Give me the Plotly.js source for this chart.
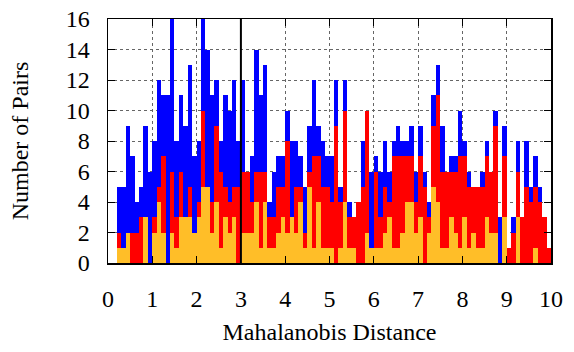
<!DOCTYPE html>
<html>
<head>
<meta charset="utf-8">
<script src="https://cdn.plot.ly/plotly-3.0.1.min.js"></script>
<style>html,body{margin:0;padding:0;background:#fff;}#chart{width:574px;height:352px;}</style>
</head>
<body>
<div id="chart"></div>
<script>
// Histogram bins: 0.0-10.0, width 0.1 (bin start values)
const binStarts = Array.from({length: 100}, (_, k) => +(k * 0.1).toFixed(1));
const binWidth = 0.1;

const allPairs = [0,0,5,5,9,7,4,5,9,6, 8,12,11,11,16,8,11,9,13,7, 8,16,14,11,12,8,11,10,12,8,
  12,6,7,14,11,13,4,6,7,7, 10,8,8,7,5,9,12,9,8,7, 7,12,5,12,4,3,4,8,10,6,
  7,6,8,6,8,9,8,8,9,6, 9,6,4,11,13,9,6,7,7,10, 8,6,5,5,6,8,6,10,3,9,
  0,3,8,3,8,5,7,5,3,1];
const redPairs = [0,0,2,1,2,2,2,3,3,0, 3,5,7,0,6,3,6,3,5,2, 4,10,5,4,9,6,5,4,5,5,
  6,6,4,6,6,6,3,3,5,5, 8,3,5,5,2,6,7,7,5,5, 4,9,4,10,3,3,4,5,10,1,
  6,3,5,4,7,7,7,7,7,4, 7,5,3,9,11,6,6,6,6,7, 7,5,5,5,5,7,6,9,0,7,
  1,2,6,3,5,4,5,4,3,1];
const orangePairs = [0,0,1,1,2,0,0,0,3,0, 2,4,2,0,2,1,3,3,3,2, 3,5,5,2,4,1,3,2,3,0,
  2,2,2,4,1,4,1,1,2,3, 2,3,2,4,1,5,1,4,1,1, 1,0,1,4,1,1,0,0,2,1,
  1,1,2,3,1,1,2,4,4,2, 3,0,2,5,4,1,1,3,2,1, 3,1,2,1,1,3,2,2,0,3,
  0,0,3,0,0,0,1,0,0,0];

const xCenters = binStarts.map(s => s + binWidth / 2);

function barTrace(y, color) {
  return {
    type: 'bar', x: xCenters, y: y, width: binWidth,
    marker: {color: color, line: {width: 0}},
    hoverinfo: 'skip', showlegend: false
  };
}

const data = [
  barTrace(allPairs, '#0000FF'),
  barTrace(redPairs, '#FF0000'),
  barTrace(orangePairs, '#FFBE28')
];

const font = {family: '"Liberation Serif", "Times New Roman", serif', size: 24, color: '#000'};

const layout = {
  width: 574, height: 352,
  margin: {l: 108, r: 23, t: 19, b: 89},
  paper_bgcolor: '#fff', plot_bgcolor: '#fff',
  barmode: 'overlay', bargap: 0,
  font: font,
  xaxis: {
    range: [0, 10], tickvals: [0,1,2,3,4,5,6,7,8,9,10],
    ticks: 'inside', ticklen: 7, tickcolor: '#000',
    showline: true, linecolor: '#000', linewidth: 1.5, mirror: 'ticks',
    showgrid: true, gridcolor: '#666', griddash: 'dot', gridwidth: 1,
    zeroline: false, tickfont: font, ticklabelstandoff: 14,
    title: {text: 'Mahalanobis Distance', font: font, standoff: 12}
  },
  yaxis: {
    range: [0, 16], tickvals: [0,2,4,6,8,10,12,14,16],
    ticks: 'inside', ticklen: 7, tickcolor: '#000',
    showline: true, linecolor: '#000', linewidth: 1.5, mirror: 'ticks',
    showgrid: true, gridcolor: '#666', griddash: 'dot', gridwidth: 1,
    zeroline: false, tickfont: font, ticklabelstandoff: 12,
    title: {text: 'Number of Pairs', font: font, standoff: 30}
  },
  shapes: [{
    type: 'line', xref: 'x', yref: 'paper', x0: 3, x1: 3, y0: 0, y1: 1,
    line: {color: '#000', width: 2}
  }]
};

Plotly.newPlot('chart', data, layout, {displayModeBar: false, staticPlot: true});
</script>
</body>
</html>
